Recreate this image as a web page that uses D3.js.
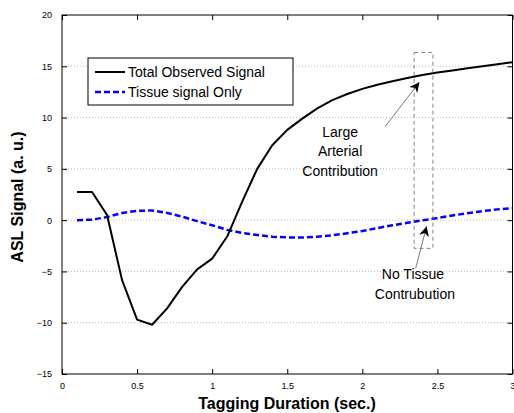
<!DOCTYPE html>
<html>
<head>
<meta charset="utf-8">
<script src="https://cdn.jsdelivr.net/npm/d3@7"></script>
<style>
  body { margin: 0; background: #fff; }
  svg { display: block; font-family: "Liberation Sans", Arial, sans-serif; }
</style>
</head>
<body>
<div id="chart"></div>
<script>
// Data
const durations = [0.1, 0.2, 0.3, 0.4, 0.5, 0.6, 0.7, 0.8, 0.9, 1.0,
    1.1, 1.2, 1.3, 1.4, 1.5, 1.6, 1.7, 1.8, 1.9, 2.0,
    2.1, 2.2, 2.3, 2.4, 2.5, 2.6, 2.7, 2.8, 2.9, 3.0];
const totalSignal = [2.75, 2.75, 0.5, -5.85, -9.7, -10.2, -8.6, -6.5, -4.8, -3.75,
    -1.6, 1.8, 5.0, 7.3, 8.8, 9.9, 10.9, 11.7, 12.3, 12.8,
    13.2, 13.55, 13.85, 14.15, 14.4, 14.6, 14.8, 15.0, 15.2, 15.4];
const tissueSignal = [0.0, 0.05, 0.3, 0.7, 0.9, 0.95, 0.7, 0.35, -0.1, -0.5,
    -0.95, -1.25, -1.45, -1.62, -1.68, -1.7, -1.62, -1.48, -1.28, -1.05,
    -0.78, -0.5, -0.25, -0.02, 0.2, 0.45, 0.68, 0.88, 1.05, 1.17];
const xTicks = [0, 0.5, 1, 1.5, 2, 2.5, 3];
const yTicks = [-15, -10, -5, 0, 5, 10, 15, 20];
const seriesNames = ["Total Observed Signal", "Tissue signal Only"];
const highlightBox = { x0: 2.345, x1: 2.47, y0: -2.75, y1: 16.35 };

// Dimensions
const width = 514,
    height = 413,
    margin = { top: 15, right: 1.5, bottom: 39, left: 62 };

const x = d3.scaleLinear().domain([0, 3]).range([margin.left, width - margin.right]);
const y = d3.scaleLinear().domain([-15, 20]).range([height - margin.bottom, margin.top]);

const svg = d3.select("#chart")
    .append("svg")
    .attr("width", width)
    .attr("height", height);

svg.append("defs").append("marker")
    .attr("id", "head")
    .attr("viewBox", "0 0 10 10")
    .attr("refX", 10)
    .attr("refY", 5)
    .attr("markerWidth", 10)
    .attr("markerHeight", 10)
    .attr("markerUnits", "userSpaceOnUse")
    .attr("orient", "auto")
    .append("path")
    .attr("d", "M0,0 L10,5 L0,10 L3,5 Z")
    .attr("fill", "#000");

// Horizontal grid
svg.append("g")
    .selectAll("line")
    .data(yTicks.filter(t => t > -15 && t < 20))
    .join("line")
    .attr("x1", x(0))
    .attr("x2", x(3))
    .attr("y1", d => y(d))
    .attr("y2", d => y(d))
    .attr("stroke", "#aaa")
    .attr("stroke-width", 0.8)
    .attr("stroke-dasharray", "1,2");

// Axes (ticks inward on all sides)
const axisStyle = g => {
    g.select(".domain").remove();
    g.selectAll(".tick line").attr("stroke", "#000");
    g.selectAll(".tick text")
        .attr("font-size", 9)
        .attr("font-family", "Liberation Sans, Arial, sans-serif")
        .attr("fill", "#000");
};

svg.append("g")
    .attr("transform", `translate(0,${y(-15)})`)
    .call(d3.axisBottom(x).tickValues(xTicks).tickSize(-5).tickPadding(9).tickFormat(d3.format("")))
    .call(axisStyle);

svg.append("g")
    .attr("transform", `translate(0,${y(20)})`)
    .call(d3.axisTop(x).tickValues(xTicks).tickSize(-5).tickFormat(""))
    .call(axisStyle);

svg.append("g")
    .attr("transform", `translate(${x(0)},0)`)
    .call(d3.axisLeft(y).tickValues(yTicks).tickSize(-5).tickPadding(10))
    .call(axisStyle);

svg.append("g")
    .attr("transform", `translate(${x(3)},0)`)
    .call(d3.axisRight(y).tickValues(yTicks).tickSize(-5).tickFormat(""))
    .call(axisStyle);

// Plot frame
svg.append("rect")
    .attr("x", x(0))
    .attr("y", y(20))
    .attr("width", x(3) - x(0))
    .attr("height", y(-15) - y(20))
    .attr("fill", "none")
    .attr("stroke", "#000")
    .attr("stroke-width", 1);

// Lines
const line = vals => d3.line()
    .x((d, i) => x(durations[i]))
    .y(d => y(d))(vals);

svg.append("path")
    .attr("d", line(tissueSignal))
    .attr("fill", "none")
    .attr("stroke", "#0000ff")
    .attr("stroke-width", 2.5)
    .attr("stroke-dasharray", "6,3");

svg.append("path")
    .attr("d", line(totalSignal))
    .attr("fill", "none")
    .attr("stroke", "#000")
    .attr("stroke-width", 2)
    .attr("stroke-linejoin", "round");

// Dashed highlight box
svg.append("rect")
    .attr("x", x(highlightBox.x0))
    .attr("y", y(highlightBox.y1))
    .attr("width", x(highlightBox.x1) - x(highlightBox.x0))
    .attr("height", y(highlightBox.y0) - y(highlightBox.y1))
    .attr("fill", "none")
    .attr("stroke", "#666")
    .attr("stroke-width", 0.8)
    .attr("stroke-dasharray", "4,3");

// Annotations
const arrows = [
    { from: [2.151, 9.1], to: [2.38, 13.45] },
    { from: [2.355, -4.7], to: [2.428, -0.6] }
];
svg.append("g")
    .selectAll("line")
    .data(arrows)
    .join("line")
    .attr("x1", d => x(d.from[0]))
    .attr("y1", d => y(d.from[1]))
    .attr("x2", d => x(d.to[0]))
    .attr("y2", d => y(d.to[1]))
    .attr("stroke", "#555")
    .attr("stroke-width", 0.8)
    .attr("marker-end", "url(#head)");

const notes = [
    { text: "Large", at: [1.852, 8.15] },
    { text: "Arterial", at: [1.852, 6.25] },
    { text: "Contribution", at: [1.852, 4.35] },
    { text: "No Tissue", at: [2.337, -5.7] },
    { text: "Contrubution", at: [2.35, -7.65] }
];
svg.append("g")
    .selectAll("text")
    .data(notes)
    .join("text")
    .attr("x", d => x(d.at[0]))
    .attr("y", d => y(d.at[1]))
    .attr("text-anchor", "middle")
    .attr("font-size", 14)
    .text(d => d.text);

// Legend
const legend = svg.append("g").attr("transform", "translate(88,58)");
legend.append("rect")
    .attr("width", 205)
    .attr("height", 47)
    .attr("fill", "#fff")
    .attr("stroke", "#000")
    .attr("stroke-width", 1);

const legendItems = legend.selectAll("g")
    .data(seriesNames)
    .join("g")
    .attr("transform", (d, i) => `translate(0,${14 + i * 20})`);

legendItems.append("line")
    .attr("x1", 7)
    .attr("x2", 37)
    .attr("stroke", (d, i) => i === 0 ? "#000" : "#0000ff")
    .attr("stroke-width", (d, i) => i === 0 ? 2 : 2.5)
    .attr("stroke-dasharray", (d, i) => i === 0 ? null : "6,3");

legendItems.append("text")
    .attr("x", 40)
    .attr("y", 5)
    .attr("font-size", 14)
    .text(d => d);

// Axis titles
svg.append("text")
    .attr("x", 287)
    .attr("y", 409)
    .attr("text-anchor", "middle")
    .attr("font-size", 16)
    .attr("font-weight", "bold")
    .text("Tagging Duration (sec.)");

svg.append("text")
    .attr("transform", "translate(23,197) rotate(-90)")
    .attr("text-anchor", "middle")
    .attr("font-size", 16)
    .attr("font-weight", "bold")
    .text("ASL Signal (a. u.)");
</script>
</body>
</html>
